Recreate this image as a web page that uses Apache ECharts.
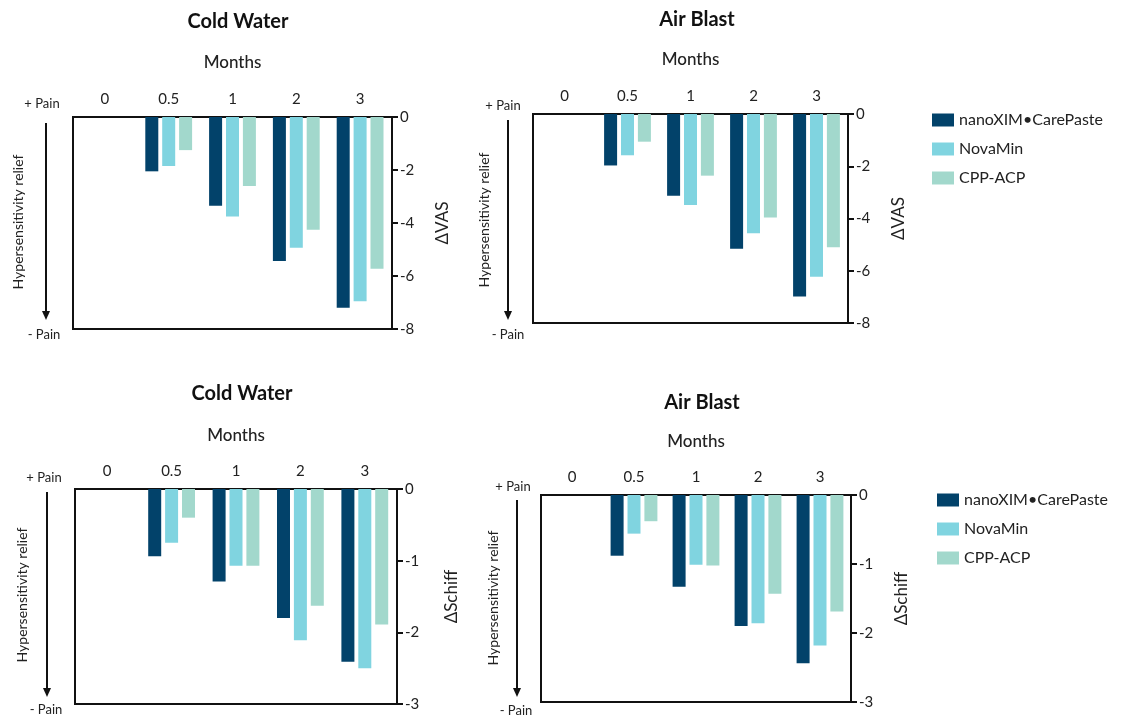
<!DOCTYPE html>
<html>
<head>
<meta charset="utf-8">
<script src="https://cdn.jsdelivr.net/npm/echarts@6/dist/echarts.min.js"></script>
<style>
  html, body { margin: 0; padding: 0; background: #fff; }
  #main { width: 1131px; height: 718px; }
</style>
</head>
<body>
<div id="main"></div>
<script>
// x 轴月份
var months = ['0', '0.5', '1', '2', '3'];
var seriesNames = ['nanoXIM\u2022CarePaste', 'NovaMin', 'CPP-ACP'];
var colors = ['#02426a', '#80d4e0', '#a2d8cc'];

// ΔVAS - Cold Water
var vasColdNano = [0, -2.05, -3.35, -5.43, -7.2];
var vasColdNova = [0, -1.85, -3.75, -4.93, -6.95];
var vasColdCpp  = [0, -1.25, -2.6, -4.25, -5.73];
// ΔVAS - Air Blast
var vasAirNano = [0, -1.97, -3.13, -5.16, -6.99];
var vasAirNova = [0, -1.58, -3.48, -4.56, -6.23];
var vasAirCpp  = [0, -1.06, -2.36, -3.96, -5.1];
// ΔSchiff - Cold Water
var schColdNano = [0, -0.94, -1.29, -1.8, -2.41];
var schColdNova = [0, -0.75, -1.07, -2.11, -2.5];
var schColdCpp  = [0, -0.4, -1.07, -1.63, -1.89];
// ΔSchiff - Air Blast
var schAirNano = [0, -0.88, -1.33, -1.9, -2.44];
var schAirNova = [0, -0.56, -1.01, -1.86, -2.18];
var schAirCpp  = [0, -0.38, -1.02, -1.43, -1.69];

var font = 'Lato';
var chart = echarts.init(document.getElementById('main'));

var grids = [
    { left: 73, top: 117, width: 319, height: 212 },
    { left: 533, top: 114, width: 315, height: 209 },
    { left: 75, top: 489, width: 322, height: 215 },
    { left: 541, top: 495, width: 310, height: 207 }
];
grids.forEach(function (g) {
    g.show = true;
    g.borderColor = '#111';
    g.borderWidth = 2;
    g.backgroundColor = 'transparent';
});

var yCfg = [
    { min: -8, interval: 2, name: '\u0394VAS', gap: 42 },
    { min: -8, interval: 2, name: '\u0394VAS', gap: 42 },
    { min: -3, interval: 1, name: '\u0394Schiff', gap: 46 },
    { min: -3, interval: 1, name: '\u0394Schiff', gap: 42 }
];
var xNameGap = [46, 46, 45, 45];

var xAxis = grids.map(function (g, i) {
    return {
        type: 'category', gridIndex: i, position: 'top', data: months,
        name: 'Months', nameLocation: 'middle', nameGap: xNameGap[i],
        nameTextStyle: { fontFamily: font, fontSize: 17, fontWeight: 500, color: '#222' },
        axisLine: { lineStyle: { color: '#111', width: 2 } },
        axisTick: { alignWithLabel: true, length: 6, lineStyle: { color: '#111', width: 2 } },
        axisLabel: { fontFamily: font, fontSize: 15, color: '#222', margin: 10 }
    };
});

var yAxis = yCfg.map(function (c, i) {
    return {
        type: 'value', gridIndex: i, position: 'right', min: c.min, max: 0, interval: c.interval,
        name: c.name, nameLocation: 'middle', nameGap: c.gap, nameRotate: 90,
        nameTextStyle: { fontFamily: font, fontSize: 17, color: '#222' },
        splitLine: { show: false },
        axisLine: { show: true, lineStyle: { color: '#111', width: 2 } },
        axisTick: { show: true, length: 6, lineStyle: { color: '#111', width: 2 } },
        axisLabel: { fontFamily: font, fontSize: 15, color: '#222', margin: 8 }
    };
});

var panelData = [
    [vasColdNano, vasColdNova, vasColdCpp],
    [vasAirNano, vasAirNova, vasAirCpp],
    [schColdNano, schColdNova, schColdCpp],
    [schAirNano, schAirNova, schAirCpp]
];
var series = [];
panelData.forEach(function (set, i) {
    set.forEach(function (vals, k) {
        series.push({
            name: seriesNames[k], type: 'bar', xAxisIndex: i, yAxisIndex: i,
            data: vals, barWidth: 13, barGap: '30%',
            itemStyle: { color: colors[k] }
        });
    });
});

var titles = [
    { text: 'Cold Water', left: 233, top: 7 },
    { text: 'Air Blast', left: 692, top: 5 },
    { text: 'Cold Water', left: 237, top: 379 },
    { text: 'Air Blast', left: 697, top: 388 }
].map(function (t) {
    return {
        text: t.text, left: t.left, top: t.top, textAlign: 'center',
        textStyle: { fontFamily: font, fontSize: 20, fontWeight: 'bold', color: '#111' }
    };
});

// 左侧 "+ Pain / - Pain" 注释和箭头
var side = [
    { px: 42, py: 104, mx: 44, my: 335, rx: 18, ry: 222, ax: 46, a0: 123, a1: 320 },
    { px: 503, py: 106, mx: 508, my: 335, rx: 484, ry: 220, ax: 508, a0: 120, a1: 320 },
    { px: 44, py: 478, mx: 46, my: 710, rx: 22, ry: 595, ax: 47, a0: 492, a1: 697 },
    { px: 513, py: 487, mx: 516, my: 711, rx: 493, ry: 598, ax: 517, a0: 500, a1: 697 }
];
var graphic = [];
side.forEach(function (s) {
    var ts = { fontFamily: font, fontSize: 13, fill: '#222', textAlign: 'center', textVerticalAlign: 'middle' };
    graphic.push({ type: 'text', x: s.px, y: s.py, style: Object.assign({ text: '+ Pain' }, ts) });
    graphic.push({ type: 'text', x: s.mx, y: s.my, style: Object.assign({ text: '- Pain' }, ts) });
    graphic.push({ type: 'text', x: s.rx, y: s.ry, rotation: Math.PI / 2,
        style: Object.assign({}, ts, { text: 'Hypersensitivity relief', fontSize: 14 }) });
    graphic.push({ type: 'line', shape: { x1: s.ax, y1: s.a0, x2: s.ax, y2: s.a1 - 6 },
        style: { stroke: '#111', lineWidth: 2 } });
    graphic.push({ type: 'polygon', shape: { points: [[s.ax - 4, s.a1 - 9], [s.ax + 4, s.a1 - 9], [s.ax, s.a1]] },
        style: { fill: '#111' } });
});

var legendBase = {
    orient: 'vertical', itemWidth: 22, itemHeight: 13, itemGap: 13,
    icon: 'rect', data: seriesNames, selectedMode: false,
    textStyle: { fontFamily: font, fontSize: 16, color: '#222' }
};

option = {
    backgroundColor: '#fff',
    animation: false,
    title: titles,
    legend: [
        Object.assign({ left: 927, top: 107 }, legendBase),
        Object.assign({ left: 932, top: 487 }, legendBase)
    ],
    grid: grids,
    xAxis: xAxis,
    yAxis: yAxis,
    series: series,
    graphic: graphic
};

chart.setOption(option);
</script>
</body>
</html>
